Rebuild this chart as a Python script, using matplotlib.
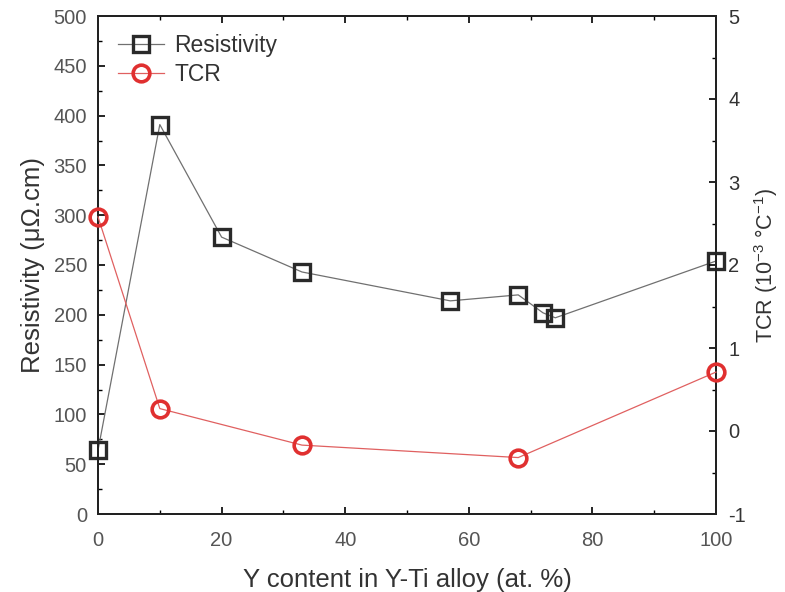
import matplotlib
matplotlib.use("Agg")
import matplotlib.pyplot as plt
from matplotlib.ticker import MultipleLocator

plt.rcParams['font.family'] = ['Liberation Sans', 'DejaVu Sans']
plt.rcParams['axes.unicode_minus'] = False
plt.rcParams['mathtext.fontset'] = 'custom'
plt.rcParams['mathtext.rm'] = 'Liberation Sans'
plt.rcParams['mathtext.it'] = 'Liberation Sans'

y_content_res = [0, 10, 20, 33, 57, 68, 72, 74, 100]
resistivity = [64, 391, 278, 243, 214, 220, 202, 197, 254]

y_content_tcr = [0, 10, 33, 68, 100]
tcr = [2.58, 0.27, -0.17, -0.32, 0.71]

fig = plt.figure(figsize=(7.85, 5.92), dpi=100)
ax = fig.add_axes([98/785, 1 - 514/592, (716-98)/785, (514-16)/592])
ax2 = ax.twinx()

tick_color = '#555555'
l1, = ax.plot(y_content_res, resistivity, color='#707070', lw=0.9,
              marker='s', ms=11.5, mfc='none', mec='#2a2a2a', mew=2.4,
              label='Resistivity', zorder=3, clip_on=False)
l2, = ax2.plot(y_content_tcr, tcr, color='#e06060', lw=0.9,
               marker='o', ms=12, mfc='none', mec='#e03030', mew=2.6,
               label='TCR', zorder=3, clip_on=False)

ax.set_xlim(0, 100)
ax.set_ylim(0, 500)
ax2.set_ylim(-1, 5)
ax.xaxis.set_major_locator(MultipleLocator(20))
ax.xaxis.set_minor_locator(MultipleLocator(10))
ax.yaxis.set_major_locator(MultipleLocator(50))
ax.yaxis.set_minor_locator(MultipleLocator(25))
ax2.yaxis.set_major_locator(MultipleLocator(1))
ax2.yaxis.set_minor_locator(MultipleLocator(0.5))

for a in (ax, ax2):
    for s in a.spines.values():
        s.set_linewidth(1.4)
        s.set_color('#222222')

ax.tick_params(axis='x', which='both', direction='in', top=True, labelsize=14.5,
               labelcolor=tick_color, pad=12)
ax.tick_params(axis='y', which='both', direction='in', right=False, labelsize=14.5,
               labelcolor=tick_color, pad=8)
ax.tick_params(which='major', length=5, width=1.2)
ax.tick_params(which='minor', length=3, width=1.0)
ax2.tick_params(axis='y', which='both', direction='in', labelsize=14.5,
                labelcolor='#333333', pad=9)
ax2.tick_params(which='major', length=5, width=1.2)
ax2.tick_params(which='minor', length=3, width=1.0)

ax.set_xlabel('Y content in Y-Ti alloy (at. %)', fontsize=18.5, color='#333333', labelpad=13)
ax.set_ylabel('Resistivity (\u03bc\u03a9.cm)', fontsize=18.5, color='#333333', labelpad=6)
ax2.set_ylabel('TCR (10$^{-3}$ \u00b0C$^{-1}$)', fontsize=15.5, color='#333333', labelpad=4)

leg = ax.legend([l1, l2], ['Resistivity', 'TCR'], loc='upper left', frameon=False,
                fontsize=16.5, handlelength=2.0, handletextpad=0.45,
                borderaxespad=0.0, borderpad=0.0,
                bbox_to_anchor=(20/618, 1 - 18/498), labelspacing=0.28)
for t in leg.get_texts():
    t.set_color('#333333')

fig.savefig('out.png', dpi=100)
